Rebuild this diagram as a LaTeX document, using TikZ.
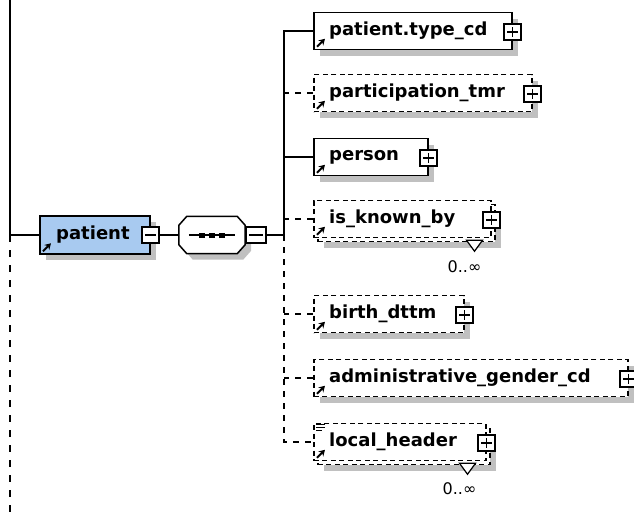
\documentclass[tikz,border=0pt]{standalone}
\usepackage{fontspec}
\setmainfont{DejaVu Sans}
\usetikzlibrary{positioning,shadows,arrows.meta}
\definecolor{patblue}{RGB}{168,202,240}
\definecolor{shade}{RGB}{192,192,192}
\tikzset{
  elem/.style={draw, fill=white, line width=1.5pt, minimum height=37pt, inner sep=0pt, anchor=west,
    drop shadow={shadow xshift=6pt, shadow yshift=-6pt, fill=shade, opacity=1}},
  optbox/.style={elem, dash pattern=on 5pt off 3.5pt},
  frontbox/.style={draw, fill=white, line width=1.5pt, minimum height=37pt, inner sep=0pt, anchor=west,
    dash pattern=on 5pt off 3.5pt},
  tag/.style={inner sep=0pt, anchor=west, font=\bfseries\fontsize{18}{20}\selectfont},
  btn/.style={draw, fill=white, solid, line width=1.3pt, minimum width=17pt, minimum height=16pt, inner sep=0pt},
  plusbtn/.style={btn, path picture={\draw[line width=1.2pt]
      ([xshift=3pt]path picture bounding box.west) -- ([xshift=-3pt]path picture bounding box.east)
      ([yshift=-3pt]path picture bounding box.north) -- ([yshift=3pt]path picture bounding box.south);}},
  minusbtn/.style={btn, path picture={\draw[line width=1.2pt]
      ([xshift=3pt]path picture bounding box.west) -- ([xshift=-3pt]path picture bounding box.east);}},
  conn/.style={line width=1.5pt},
  optline/.style={line width=1.5pt, dash pattern=on 6pt off 6pt},
  refarrow/.style={solid, line width=2pt, -{Stealth[length=6pt,width=7pt]}},
  occurs/.style={inner sep=0pt, font=\fontsize{16}{18}\selectfont}
}
\begin{document}
\begin{tikzpicture}[x=1pt,y=-1pt]
	\useasboundingbox (0,0) rectangle (634,515);

	% root element and sequence
	\node[elem, fill=patblue, minimum width=110pt, minimum height=38pt] (patient) at (39,235) {};
	\node[tag, right=17pt of patient.west] (patienttxt) {patient};
	\node[minusbtn] (patbtn) at (patient.east) {};
	\node[minimum width=66pt, minimum height=37pt, inner sep=0pt] (seq) at (212,235) {};
	\filldraw[conn, fill=white, drop shadow={shadow xshift=6pt, shadow yshift=-6pt, fill=shade, opacity=1}]
		([xshift=8pt]seq.north west) -- ([xshift=-8pt]seq.north east) -- ([yshift=-9pt]seq.north east)
		-- ([yshift=9pt]seq.south east) -- ([xshift=-8pt]seq.south east) -- ([xshift=8pt]seq.south west)
		-- ([yshift=9pt]seq.south west) -- ([yshift=-9pt]seq.north west) -- cycle;
	\draw[conn] ([xshift=10pt]seq.west) -- ([xshift=-10pt]seq.east);
	\foreach \dx in {-10,0,10}
		\fill ([xshift=\dx pt]seq.center) ++(-3pt,-2.5pt) rectangle ++(6pt,5pt);
	\node[minusbtn, anchor=west, minimum width=20pt] (seqbtn) at (seq.east) {};

	% child elements
	\node[elem, minimum width=198pt] (typecd) at (313,31) {};
	\node[optbox, minimum width=218pt] (part) at (313,93) {};
	\node[elem, minimum width=114pt] (person) at (313,157) {};
	\node[optbox, minimum width=177pt] (kbback) at (317,223) {};
	\node[frontbox, minimum width=177pt] (kbfront) at (313,219) {};
	\node[optbox, minimum width=150pt] (birth) at (313,314) {};
	\node[optbox, minimum width=314pt] (admin) at (313,378) {};
	\node[optbox, minimum width=172pt] (lhback) at (317,446) {};
	\node[frontbox, minimum width=172pt] (lhfront) at (313,442) {};

	\node[tag, right=16pt of typecd.west] (typecdtxt) {patient.type\_cd};
	\node[tag, right=16pt of part.west] (parttxt) {participation\_tmr};
	\node[tag, right=16pt of person.west] (persontxt) {person};
	\node[tag, right=16pt of kbfront.west] (kbtxt) {is\_known\_by};
	\node[tag, right=16pt of birth.west] (birthtxt) {birth\_dttm};
	\node[tag, right=16pt of admin.west] (admintxt) {administrative\_gender\_cd};
	\node[tag, right=16pt of lhfront.west] (lhtxt) {local\_header};

	\foreach \b in {typecd,part,person,birth,admin,kbfront,lhfront}
		\node[plusbtn] (\b btn) at ([yshift=-1pt]\b.east) {};

	\foreach \b in {patient,typecd,part,person,kbfront,birth,admin,lhfront}
		\draw[refarrow] ([shift={(4pt,3.5pt)}]\b.south west) -- ++(8pt,8pt);

	% local_header icon
	\foreach \dy/\len in {2/9,5/9,8/6}
		\draw[line width=1.2pt] ([shift={(3pt,-\dy pt)}]lhfront.north west) -- ++(\len pt,0);

	% occurrence marks
	\filldraw[line width=1.2pt, fill=white] ([xshift=-29pt,yshift=2pt]kbback.south east) -- ([xshift=-13pt,yshift=2pt]kbback.south east)
		-- ([xshift=-21pt,yshift=-9pt]kbback.south east) -- cycle;
	\node[occurs] (kbocc) at ([xshift=-31pt,yshift=-24pt]kbback.south east) {0..∞};
	\filldraw[line width=1.2pt, fill=white] ([xshift=-31pt,yshift=2pt]lhback.south east) -- ([xshift=-15pt,yshift=2pt]lhback.south east)
		-- ([xshift=-23pt,yshift=-9pt]lhback.south east) -- cycle;
	\node[occurs] (lhocc) at ([xshift=-31pt,yshift=-23pt]lhback.south east) {0..∞};

	% connectors
	\coordinate (trunktop) at (10,0);
	\coordinate (trunkjoin) at (10,235);
	\coordinate (trunkend) at (10,515);
	\coordinate (bus) at (284,235);
	\draw[conn] (trunktop) -- (trunkjoin) -- (patient.west);
	\draw[optline, dash pattern=on 7pt off 8pt] (trunkjoin) -- (trunkend);
	\draw[conn] (patbtn.east) -- (seq.west);
	\draw[conn] (seqbtn.east) -- (bus);
	\draw[conn] (typecd.west) -| (bus);
	\draw[conn] (person.west) -- (person.west -| bus);
	\foreach \b in {part,kbfront,birth,admin}
		\draw[optline] (\b.west) -- (\b.west -| bus);
	\draw[optline] (bus) |- (lhfront.west);
\end{tikzpicture}
\end{document}
